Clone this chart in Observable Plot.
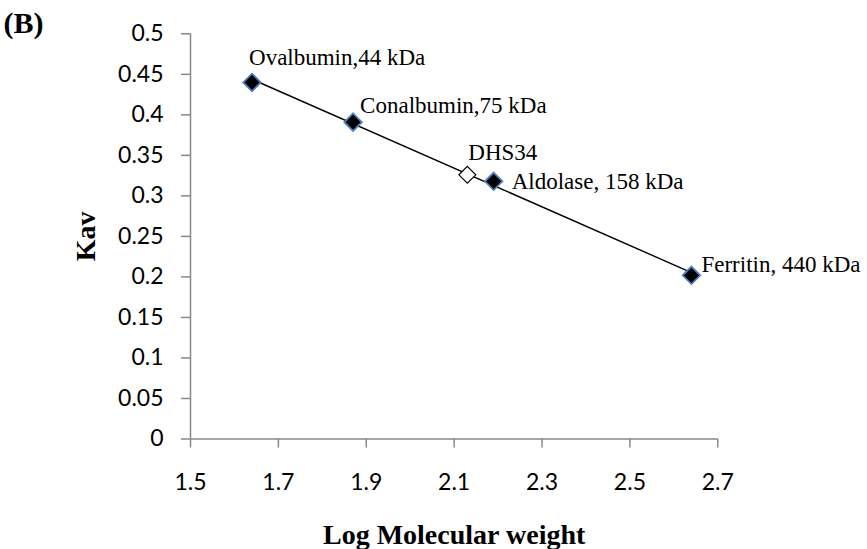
<!DOCTYPE html>
<html>
<head>
<meta charset="utf-8">
<script src="https://cdn.jsdelivr.net/npm/d3@7"></script>
<script src="https://cdn.jsdelivr.net/npm/@observablehq/plot@0.6"></script>
<style>
  html, body { margin: 0; padding: 0; background: #fff; }
</style>
</head>
<body>
<div id="chart"></div>
<script>
// Standards (calibration proteins)
const proteinLabels = ["Ovalbumin,44 kDa", "Conalbumin,75 kDa", "Aldolase, 158 kDa", "Ferritin, 440 kDa"];
const logMW = [1.64, 1.87, 2.19, 2.64];
const kav = [0.44, 0.391, 0.318, 0.202];

// Sample
const sampleLabels = ["DHS34"];
const sampleLogMW = [2.13];
const sampleKav = [0.326];

// Ticks
const xTicks = [1.5, 1.7, 1.9, 2.1, 2.3, 2.5, 2.7];
const yTicks = [0, 0.05, 0.1, 0.15, 0.2, 0.25, 0.3, 0.35, 0.4, 0.45, 0.5];

const standards = proteinLabels.map((name, i) => ({name, x: logMW[i], y: kav[i]}));
const samples = sampleLabels.map((name, i) => ({name, x: sampleLogMW[i], y: sampleKav[i]}));

// label placement (style, not data)
const labelStyle = {
  "Ovalbumin,44 kDa": {dx: -3, dy: -25},
  "Conalbumin,75 kDa": {dx: 7, dy: -17},
  "Aldolase, 158 kDa": {dx: 18, dy: 0},
  "Ferritin, 440 kDa": {dx: 10, dy: -11},
  "DHS34": {dx: 1, dy: -22}
};

const axisGray = "#888888";
const serif = "'Liberation Serif', 'Times New Roman', serif";

const labelMarks = [...standards, ...samples].map(d =>
  Plot.text([d], {
    x: "x", y: "y", text: "name",
    textAnchor: "start", lineAnchor: "middle",
    dx: labelStyle[d.name].dx, dy: labelStyle[d.name].dy,
    fontFamily: serif, fontSize: 23, fill: "#000"
  })
);

const chart = Plot.plot({
  width: 867,
  height: 549,
  marginLeft: 190,
  marginRight: 149.7,
  marginTop: 33.3,
  marginBottom: 110.5,
  style: {fontFamily: "Lato, 'Open Sans', sans-serif", fontSize: "23px", background: "#fff", color: "#000"},
  x: {domain: [1.5, 2.7]},
  y: {domain: [0, 0.5]},
  marks: [
    Plot.ruleY([0], {stroke: axisGray, strokeWidth: 1.5}),
    Plot.ruleX([1.5], {stroke: axisGray, strokeWidth: 1.5}),
    Plot.axisX({ticks: xTicks, tickSize: 9, tickPadding: 26, stroke: axisGray, strokeWidth: 1.5, fill: "#000", fontSize: 23, label: null, tickFormat: d => d3.format(".1f")(d)}),
    Plot.axisY({ticks: yTicks, tickSize: 9, tickPadding: 18, stroke: axisGray, strokeWidth: 1.5, fill: "#000", fontSize: 23, label: null, tickFormat: d => String(+d.toFixed(2))}),
    Plot.linearRegressionY(standards, {x: "x", y: "y", stroke: "#000", strokeWidth: 1.4, ci: 0}),
    Plot.dot(standards, {x: "x", y: "y", symbol: "diamond2", r: 7.9, fill: "#000", stroke: "#4f81bd", strokeWidth: 1.8}),
    Plot.dot(samples, {x: "x", y: "y", symbol: "diamond2", r: 7.6, fill: "#fff", stroke: "#000", strokeWidth: 1.2}),
    ...labelMarks,
    Plot.text(["Log Molecular weight"], {frameAnchor: "bottom", lineAnchor: "bottom", dy: 104.5, fontFamily: serif, fontWeight: "bold", fontSize: 28, fill: "#000"}),
    Plot.text(["Kav"], {frameAnchor: "left", rotate: -90, lineAnchor: "bottom", textAnchor: "middle", dx: -96, fontFamily: serif, fontWeight: "bold", fontSize: 28, fill: "#000"}),
    Plot.text(["(B)"], {frameAnchor: "top-left", textAnchor: "start", lineAnchor: "bottom", dx: -187, dy: -1.3, fontFamily: serif, fontWeight: "bold", fontSize: 30, fill: "#000"})
  ]
});

document.getElementById("chart").appendChild(chart);
</script>
</body>
</html>
